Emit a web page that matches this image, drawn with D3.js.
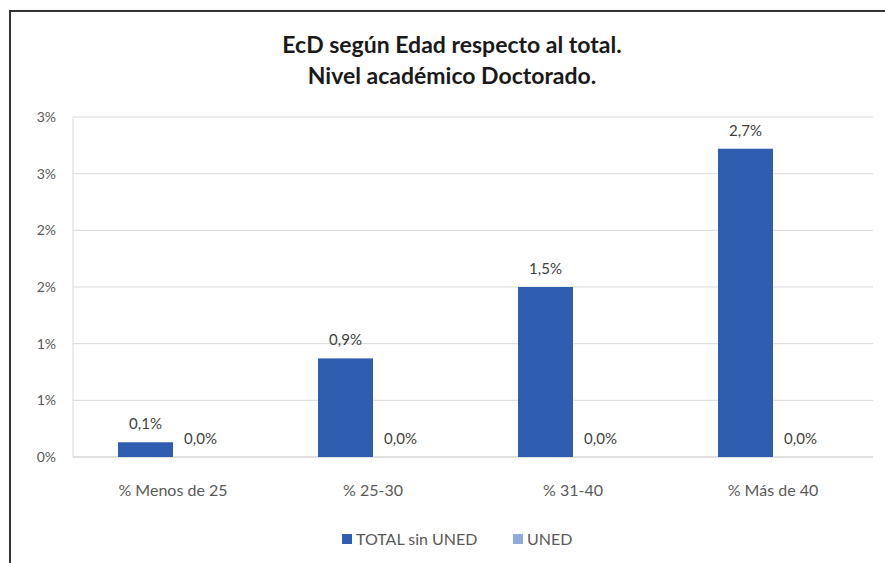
<!DOCTYPE html>
<html><head><meta charset="utf-8">
<script src="https://cdn.jsdelivr.net/npm/d3@7"></script>
<style>body{margin:0;background:#fff}svg{display:block}</style>
</head><body>
<svg id="c" width="885" height="563"></svg>
<script>
const categories = ["% Menos de 25", "% 25-30", "% 31-40", "% Más de 40"];
const seriesNames = ["TOTAL sin UNED", "UNED"];
const totalSinUned = [0.13, 0.87, 1.50, 2.72];
const uned = [0.0, 0.0, 0.0, 0.0];
const labelsTotal = ["0,1%", "0,9%", "1,5%", "2,7%"];
const labelsUned = ["0,0%", "0,0%", "0,0%", "0,0%"];
const yTicks = [0, 0.5, 1, 1.5, 2, 2.5, 3];
const yTickLabels = ["0%", "1%", "1%", "2%", "2%", "3%", "3%"];
const titleLines = ["EcD según Edad respecto al total.", "Nivel académico Doctorado."];

const colors = ["#2F5DB0", "#8EA9DB"];
const svg = d3.select("#c");
const font = "Lato, 'Open Sans', sans-serif";

// frame
svg.append("rect").attr("x", 10).attr("y", 11).attr("width", 900).attr("height", 600)
  .attr("fill", "#fff").attr("stroke", "#333").attr("stroke-width", 2);

const m = {l: 73, r: 873, t: 117, b: 457};
const y = d3.scaleLinear().domain([0, 3]).range([m.b, m.t]);
const x0 = d3.scaleBand().domain(categories).range([m.l, m.r]);
const barW = 55;

// gridlines
svg.append("g").selectAll("line").data(yTicks).join("line")
  .attr("x1", m.l).attr("x2", m.r).attr("y1", d => y(d)).attr("y2", d => y(d))
  .attr("stroke", d => d === 0 ? "#bfbfbf" : "#d9d9d9").attr("stroke-width", 1);
svg.append("line").attr("x1", m.l).attr("x2", m.l).attr("y1", m.t).attr("y2", m.b)
  .attr("stroke", "#d9d9d9");

// y tick labels
svg.append("g").selectAll("text").data(yTicks).join("text")
  .attr("x", 56).attr("y", d => y(d) + 5).attr("text-anchor", "end")
  .attr("font-family", font).attr("font-size", 14).attr("fill", "#595959")
  .text((d, i) => yTickLabels[i]);

// bars
const series = [totalSinUned, uned];
series.forEach((vals, s) => {
  svg.append("g").selectAll("rect").data(vals).join("rect")
    .attr("x", (d, i) => x0(categories[i]) + x0.bandwidth() / 2 - barW + s * barW)
    .attr("width", barW)
    .attr("y", d => y(d)).attr("height", d => y(0) - y(d))
    .attr("fill", colors[s]);
});

// data labels
const labs = [labelsTotal, labelsUned];
series.forEach((vals, s) => {
  svg.append("g").selectAll("text").data(vals).join("text")
    .attr("x", (d, i) => x0(categories[i]) + x0.bandwidth() / 2 - barW / 2 + s * barW)
    .attr("y", d => y(d) - 13)
    .attr("text-anchor", "middle").attr("font-family", font).attr("font-size", 15)
    .attr("fill", "#404040").text((d, i) => labs[s][i]);
});

// x labels
svg.append("g").selectAll("text").data(categories).join("text")
  .attr("x", d => x0(d) + x0.bandwidth() / 2).attr("y", 496)
  .attr("text-anchor", "middle").attr("font-family", font).attr("font-size", 16)
  .attr("fill", "#595959").text(d => d);

// title
svg.append("g").selectAll("text").data(titleLines).join("text")
  .attr("x", 452).attr("y", (d, i) => 53 + i * 31)
  .attr("text-anchor", "middle").attr("font-family", font).attr("font-weight", "bold")
  .attr("font-size", 23).attr("fill", "#1a1a1a").text(d => d);

// legend
const legX = [342, 513];
seriesNames.forEach((n, i) => {
  svg.append("rect").attr("x", legX[i]).attr("y", 534).attr("width", 10).attr("height", 10).attr("fill", colors[i]);
  svg.append("text").attr("x", legX[i] + 14).attr("y", 545).attr("font-family", font)
    .attr("font-size", 16).attr("fill", "#595959").text(n);
});
</script>
</body></html>
